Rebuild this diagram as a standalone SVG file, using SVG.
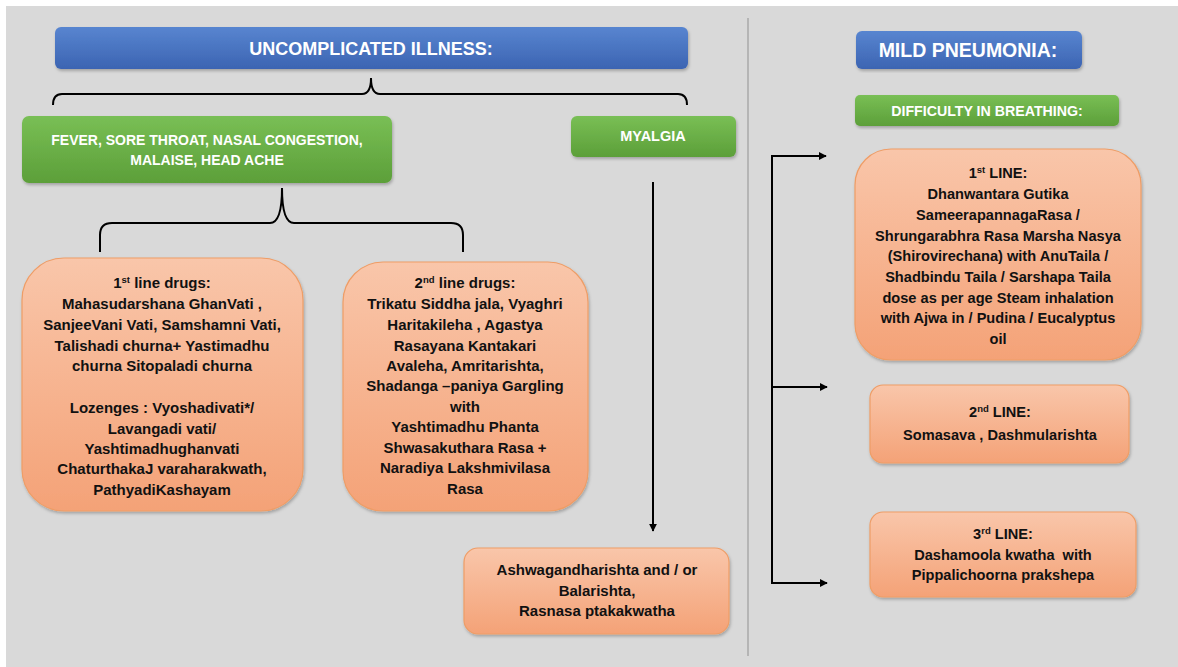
<svg xmlns="http://www.w3.org/2000/svg" width="1178" height="667" viewBox="0 0 1178 667">
<defs>
<linearGradient id="gBlue" x1="0" y1="0" x2="0" y2="1"><stop offset="0" stop-color="#5885d0"/><stop offset="1" stop-color="#3c64b2"/></linearGradient>
<linearGradient id="gGreen" x1="0" y1="0" x2="0" y2="1"><stop offset="0" stop-color="#79bf55"/><stop offset="1" stop-color="#5c9f39"/></linearGradient>
<linearGradient id="gOrange" x1="0" y1="0" x2="0" y2="1"><stop offset="0" stop-color="#f9c6aa"/><stop offset="1" stop-color="#f4a277"/></linearGradient>
<filter id="sh" x="-5%" y="-5%" width="110%" height="115%"><feDropShadow dx="1" dy="2" stdDeviation="1.5" flood-color="#000" flood-opacity="0.25"/></filter>
<marker id="ah" viewBox="0 0 10 10" refX="9" refY="5" markerWidth="8" markerHeight="8" markerUnits="userSpaceOnUse" orient="auto"><path d="M0,0 L10,5 L0,10 z" fill="#000"/></marker>
</defs>
<style>
.bg{fill:#d9d9d9}
.blue{fill:url(#gBlue);filter:url(#sh)}
.green{fill:url(#gGreen);filter:url(#sh)}
.orange{fill:url(#gOrange);stroke:#ef9d66;stroke-width:1.2;filter:url(#sh)}
.wt{font-family:"Liberation Sans",Arial,sans-serif;font-weight:bold;fill:#fff;text-anchor:middle}
.bt{font-family:"Liberation Sans",Arial,sans-serif;font-weight:bold;fill:#111;text-anchor:middle;font-size:15px}
.bt2{font-family:"Liberation Sans",Arial,sans-serif;font-weight:bold;fill:#111;text-anchor:middle;font-size:14.6px}
.ln{fill:none;stroke:#000;stroke-width:2}
.ar{fill:none;stroke:#000;stroke-width:2;marker-end:url(#ah)}
</style>
<rect class="bg" x="6" y="6" width="1172" height="661"/>
<line x1="748" y1="18" x2="748" y2="656" stroke="#a8a8a8" stroke-width="1.5"/>

<g id="connectors">
<path class="ln" d="M53,105 Q53,94 62,94 H362 Q371,94 371,78 Q371,94 380,94 H678 Q687,94 687,105"/>
<path class="ln" d="M100,252 V235 Q100,223 112,223 H270 Q282,223 282,188 Q282,223 294,223 H451 Q463,223 463,235 V252"/>
<line class="ar" x1="653" y1="182" x2="653" y2="531"/>
<path class="ln" d="M772,584 V156"/>
<line class="ar" x1="771" y1="156" x2="826" y2="156"/>
<line class="ar" x1="771" y1="387" x2="827" y2="387"/>
<line class="ar" x1="771" y1="583" x2="827" y2="583"/>
</g>

<g id="uncomplicated">
<rect class="blue" x="55" y="27" width="633" height="42" rx="6"/>
<text class="wt" x="371" y="55" font-size="18">UNCOMPLICATED ILLNESS:</text>
</g>

<g id="fever">
<rect class="green" x="22" y="116" width="370" height="67" rx="7"/>
<text class="wt" x="207" y="145" font-size="14">FEVER, SORE THROAT, NASAL CONGESTION,</text>
<text class="wt" x="207" y="165" font-size="14">MALAISE, HEAD ACHE</text>
</g>

<g id="myalgia">
<rect class="green" x="571" y="116" width="165" height="41" rx="6"/>
<text class="wt" x="653" y="141" font-size="14.5">MYALGIA</text>
</g>

<g id="firstline">
<rect class="orange" x="22" y="258" width="281" height="253" rx="42"/>
<text class="bt" x="162" y="288">1<tspan font-size="9.5" dy="-5">st</tspan><tspan dy="5"> line drugs:</tspan></text>
<text class="bt" x="162" y="309">Mahasudarshana GhanVati ,</text>
<text class="bt" x="162" y="330">SanjeeVani Vati, Samshamni Vati,</text>
<text class="bt" x="162" y="351">Talishadi churna+ Yastimadhu</text>
<text class="bt" x="162" y="371">churna Sitopaladi churna</text>
<text class="bt" x="162" y="413">Lozenges : Vyoshadivati*/</text>
<text class="bt" x="162" y="434">Lavangadi vati/</text>
<text class="bt" x="162" y="454">Yashtimadhughanvati</text>
<text class="bt" x="162" y="474">ChaturthakaJ varaharakwath,</text>
<text class="bt" x="162" y="495">PathyadiKashayam</text>
</g>

<g id="secondline">
<rect class="orange" x="343" y="262" width="245" height="249" rx="40"/>
<text class="bt" x="465" y="288">2<tspan font-size="9.5" dy="-5">nd</tspan><tspan dy="5"> line drugs:</tspan></text>
<text class="bt" x="465" y="309">Trikatu Siddha jala, Vyaghri</text>
<text class="bt" x="465" y="330">Haritakileha , Agastya</text>
<text class="bt" x="465" y="351">Rasayana Kantakari</text>
<text class="bt" x="465" y="371">Avaleha, Amritarishta,</text>
<text class="bt" x="465" y="391">Shadanga –paniya Gargling</text>
<text class="bt" x="465" y="412">with</text>
<text class="bt" x="465" y="432">Yashtimadhu Phanta</text>
<text class="bt" x="465" y="453">Shwasakuthara Rasa +</text>
<text class="bt" x="465" y="473">Naradiya Lakshmivilasa</text>
<text class="bt" x="465" y="494">Rasa</text>
</g>

<g id="ashwagandha">
<rect class="orange" x="464" y="548" width="265" height="86" rx="14"/>
<text class="bt" x="597" y="575">Ashwagandharishta and / or</text>
<text class="bt" x="597" y="596">Balarishta,</text>
<text class="bt" x="597" y="616">Rasnasa ptakakwatha</text>
</g>

<g id="pneumonia">
<rect class="blue" x="856" y="31" width="226" height="38" rx="6"/>
<text class="wt" x="968" y="57" font-size="19.5">MILD PNEUMONIA:</text>
</g>

<g id="breathing">
<rect class="green" x="855" y="95" width="264" height="31" rx="5"/>
<text class="wt" x="987" y="116" font-size="14.2">DIFFICULTY IN BREATHING:</text>
</g>

<g id="line1">
<rect class="orange" x="855" y="149" width="286" height="211" rx="36"/>
<text class="bt2" x="998" y="178">1<tspan font-size="9.5" dy="-5">st</tspan><tspan dy="5"> LINE:</tspan></text>
<text class="bt2" x="998" y="199">Dhanwantara Gutika</text>
<text class="bt2" x="998" y="220">SameerapannagaRasa /</text>
<text class="bt2" x="998" y="241">Shrungarabhra Rasa Marsha Nasya</text>
<text class="bt2" x="998" y="261">(Shirovirechana) with AnuTaila /</text>
<text class="bt2" x="998" y="282">Shadbindu Taila / Sarshapa Taila</text>
<text class="bt2" x="998" y="303">dose as per age Steam inhalation</text>
<text class="bt2" x="998" y="323">with Ajwa in / Pudina / Eucalyptus</text>
<text class="bt2" x="998" y="344">oil</text>
</g>

<g id="line2">
<rect class="orange" x="870" y="385" width="259" height="78" rx="13"/>
<text class="bt2" x="1000" y="417">2<tspan font-size="9.5" dy="-5">nd</tspan><tspan dy="5"> LINE:</tspan></text>
<text class="bt2" x="1000" y="440">Somasava , Dashmularishta</text>
</g>

<g id="line3">
<rect class="orange" x="870" y="512" width="266" height="85" rx="13"/>
<text class="bt2" x="1003" y="539">3<tspan font-size="9.5" dy="-5">rd</tspan><tspan dy="5"> LINE:</tspan></text>
<text class="bt2" x="1003" y="560" xml:space="preserve">Dashamoola kwatha  with</text>
<text class="bt2" x="1003" y="580">Pippalichoorna prakshepa</text>
</g>
</svg>
